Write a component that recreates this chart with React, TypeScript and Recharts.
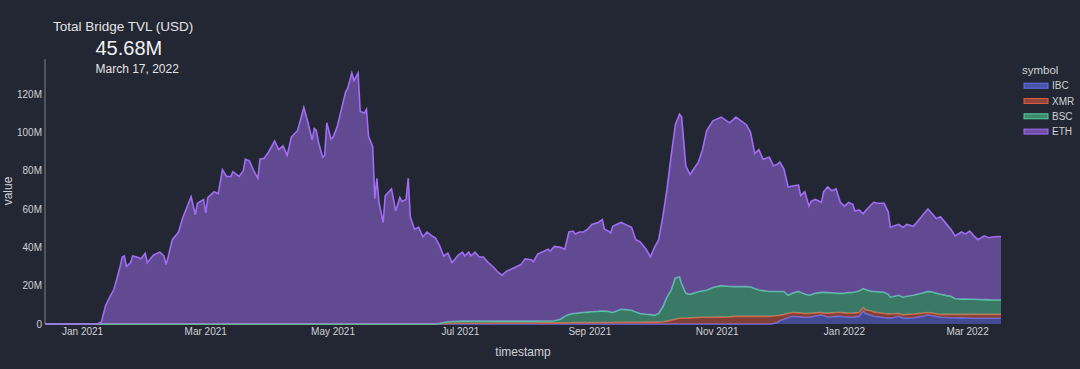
import { AreaChart, Area, XAxis, YAxis } from "recharts";

// days counted from 2020-12-14, values in millions of USD
const START = Date.UTC(2020, 11, 14);
const DAY = 86400000;

// before July 2021 only ETH holds value
const earlyDays = [
  0, 25, 27, 29, 31, 33, 34, 36, 37, 38, 39, 41, 42, 44, 46, 48, 49, 52, 55, 57,
  58, 59, 61, 64, 66, 70, 72, 73, 76, 77, 78, 81, 83, 85, 87, 89, 90, 93, 95, 96,
  98, 100, 102, 103, 105, 107, 110, 112, 114, 116, 117, 118, 121, 124, 125, 126, 128, 129, 130, 131,
  133, 134, 135, 137, 138, 140, 142, 144, 145, 147, 148, 150, 151, 153, 154, 155, 157, 158, 159, 160,
  162, 163, 166, 168, 170, 171, 173, 174, 175, 177, 179, 181, 183, 186, 187,
];
const earlyEth = [
  0, 0, 1, 9.5, 14, 18, 22, 30, 35, 35.5, 30, 32, 35.5, 35, 34, 37, 32, 36, 37.5, 35.5,
  31, 35, 44, 48, 55.5, 66.5, 57, 63, 65, 58, 66, 69, 68, 80.5, 77, 77, 79.5, 77, 80, 86,
  85, 80, 76, 86, 86.5, 89.5, 95.5, 91, 93, 88, 92.5, 97.5, 101, 113, 109, 105, 96, 102, 101, 95,
  87, 88, 105, 96.5, 97.5, 103, 112, 121, 123, 131, 127, 131, 111, 110, 112, 98, 92.5, 65.5, 76, 63.5,
  53, 67, 70.5, 59, 66, 64, 65, 76, 56, 49.5, 50.5, 45.5, 48, 45.5, 45,
];

const lateDays = [
  189, 191, 193, 195, 198, 200, 201, 203, 204, 206, 208, 210, 212, 215, 217, 219, 221, 224, 228, 230,
  233, 234, 236, 239, 241, 242, 244, 247, 249, 251, 253, 254, 256, 258, 260, 262, 265, 267, 268, 270,
  271, 272, 276, 278, 281, 283, 285, 288, 290, 292, 294, 296, 298, 300, 302, 304, 305, 307, 309, 313,
  315, 317, 320, 324, 328, 331, 336, 338, 340, 342, 344, 347, 349, 351, 352, 354, 356, 358, 361, 362,
  364, 366, 367, 369, 372, 373, 375, 377, 379, 381, 383, 385, 387, 388, 390, 392, 393, 396, 397, 399,
  402, 404, 405, 409, 411, 413, 416, 418, 421, 423, 425, 427, 429, 432, 434, 436, 439, 441, 443, 445,
  447, 450, 452, 455, 458,
];
const lateEth = [
  40.7, 34.7, 35.8, 30.7, 34.6, 36, 34, 36, 34, 36, 33.5, 33.5, 31, 28, 25.5, 24, 26, 27.5, 29.5, 32.5,
  32, 31, 35, 36.4, 37.4, 36.4, 38.8, 37.5, 35, 43, 43, 41.5, 42.2, 42, 43.3, 45.6, 46.4, 47.7, 42.8, 42,
  41.3, 45, 45.3, 44.5, 43.3, 37.8, 37.5, 33.9, 30.1, 35.5, 38.5, 47, 56.5, 70.3, 80, 85, 87, 66.5, 62.5, 67.7,
  73.8, 83.4, 87, 88, 85.4, 88.5, 84.5, 80.7, 70.5, 73.3, 68.6, 70, 65.5, 66.5, 67.5, 64, 56.5, 56, 55.5, 50.5,
  53.3, 46.5, 48.7, 49, 47, 52.5, 55.1, 53.2, 54.4, 47.5, 45.4, 47.1, 46, 42.3, 42.3, 39, 41, 45.5, 46.5, 46.2,
  46.5, 43, 36.5, 37, 36.5, 37.5, 36, 38, 41.2, 43, 40.8, 38.9, 40.5, 37.2, 35, 32.8, 35, 34, 35.6, 33.1,
  31.2, 33.3, 32.4, 33, 33.18,
];
const lateBsc = [
  0.2, 0.5, 0.9, 0.9, 1, 1.1, 1.1, 1.1, 1.1, 1.1, 1.1, 1.1, 1.1, 1, 1, 1, 1, 1, 1, 1,
  1, 1, 1, 1, 1, 1, 1.1, 1.9, 3.4, 4.4, 4.8, 4.8, 5.1, 5.3, 5.5, 5.7, 5.8, 6, 5.9, 5.7,
  5.4, 5.2, 6.8, 6.6, 6.3, 5.3, 4.6, 4.1, 3.9, 3.5, 4.5, 7.8, 12.5, 15.7, 21.5, 21.5, 18, 13, 12.3, 13.4,
  13.7, 14.1, 15.5, 16.4, 15.9, 15.5, 15.5, 15.3, 14.5, 13.7, 13.4, 13, 12.8, 12.6, 12.5, 12, 9.5, 10, 11.2, 10.8,
  10.2, 9.5, 9.7, 10.2, 10.5, 10.7, 10.8, 10.5, 10.1, 10, 10.3, 10.8, 10.8, 10.9, 11.2, 10, 10.7, 10.2, 10.8, 10.8,
  11, 10.2, 8.8, 9.5, 9.3, 9.5, 9.8, 10.1, 10.6, 11, 11, 10.8, 10.5, 9.8, 9.5, 8.2, 8, 8, 7.9, 7.9,
  7.8, 7.7, 7.6, 7.5, 7.5,
];
const lateXmr = [
  0.1, 0.3, 0.3, 0.4, 0.4, 0.4, 0.4, 0.4, 0.4, 0.4, 0.4, 0.4, 0.4, 0.5, 0.5, 0.5, 0.5, 0.5, 0.5, 0.5,
  0.5, 0.5, 0.5, 0.6, 0.6, 0.6, 0.6, 0.6, 0.6, 0.6, 0.7, 0.7, 0.7, 0.7, 0.7, 0.7, 0.8, 0.8, 0.8, 0.8,
  0.8, 0.8, 0.9, 0.9, 0.9, 0.9, 0.9, 1, 1, 1, 1, 1.2, 1.5, 2, 2.5, 3, 3, 3, 3.2, 3.4,
  3.5, 3.5, 3.5, 3.6, 3.7, 4, 4, 4, 4, 4, 4, 4, 3.9, 3.6, 2.8, 2.5, 2.2, 2, 2, 2,
  2, 2, 1.9, 1.6, 1.3, 1.5, 2.1, 2, 2, 2, 2, 2.1, 2.2, 2.1, 2, 1.7, 1.8, 2.3, 2.2, 2.2,
  2.1, 2.1, 2.2, 1.5, 1.5, 2, 1.9, 1.8, 1.5, 1.3, 1.4, 1.4, 1.5, 1.6, 1.7, 1.7, 1.8, 1.9, 1.9, 2,
  2, 2, 2, 2, 2,
];
const lateIbc = [
  0, 0, 0, 0, 0, 0, 0, 0, 0, 0, 0, 0, 0, 0, 0, 0, 0, 0, 0, 0,
  0, 0, 0, 0, 0, 0, 0, 0, 0, 0, 0, 0, 0, 0, 0, 0, 0, 0, 0, 0,
  0, 0, 0, 0, 0, 0, 0, 0, 0, 0, 0, 0, 0, 0, 0, 0, 0, 0, 0, 0,
  0, 0, 0, 0, 0, 0, 0, 0, 0, 0, 0, 0, 0.3, 0.8, 1.7, 2.5, 3.3, 4, 3.8, 3.7,
  3.5, 3.5, 3.7, 4.2, 4.7, 4.3, 3.5, 3.8, 4, 4, 3.8, 3.5, 3.5, 3.7, 4, 6.8, 5.5, 4.5, 4, 3.8,
  3.4, 3.2, 3, 4, 3.2, 3, 3.3, 3.6, 4.2, 4.7, 4.3, 3.9, 3.5, 3.4, 3.3, 3.3, 3.2, 3.1, 3.1, 3,
  3, 3, 3, 3, 3,
];

const yTicks = [0, 20, 40, 60, 80, 100, 120];
const tickDates = ["2021-01-01", "2021-03-01", "2021-05-01", "2021-07-01", "2021-09-01", "2021-11-01", "2022-01-01", "2022-03-01"];
const tickLabels = ["Jan 2021", "Mar 2021", "May 2021", "Jul 2021", "Sep 2021", "Nov 2021", "Jan 2022", "Mar 2022"];

const symbols = ["IBC", "XMR", "BSC", "ETH"];
const colors: Record<string, string> = {
  IBC: "#6270f0",
  XMR: "#dc5a40",
  BSC: "#52cc99",
  ETH: "#a16df3",
};

const rows = [
  ...earlyDays.map((d, i) => ({ t: START + d * DAY, ETH: earlyEth[i], BSC: 0, XMR: 0, IBC: 0 })),
  ...lateDays.map((d, i) => ({
    t: START + d * DAY,
    ETH: lateEth[i],
    BSC: lateBsc[i],
    XMR: lateXmr[i],
    IBC: lateIbc[i],
  })),
];

const tickTimes = tickDates.map((s) => Date.parse(s));
const FONT = '"Liberation Sans", Arial, sans-serif';
const BG = "#232733";

export default function App() {
  return (
    <div style={{ position: "absolute", left: 0, top: 0, width: 1080, height: 369, background: BG, fontFamily: FONT }}>
      <AreaChart width={1080} height={369} data={rows} margin={{ top: 59, right: 79, bottom: 0, left: 0 }}>
        <XAxis
          dataKey="t"
          type="number"
          scale="time"
          domain={[START, START + 458 * DAY]}
          ticks={tickTimes}
          tickFormatter={(v) => tickLabels[tickTimes.indexOf(v)] ?? ""}
          axisLine={false}
          tickLine={false}
          tickSize={0}
          tickMargin={4}
          height={45}
          tick={{ fill: "#d0d2d6", fontSize: 10, fontFamily: FONT }}
        />
        <YAxis
          type="number"
          domain={[0, 138.3]}
          ticks={yTicks}
          tickFormatter={(v) => (v === 0 ? "0" : `${v}M`)}
          width={45}
          axisLine={{ stroke: "#7d828c", strokeWidth: 1 }}
          tickLine={false}
          tickSize={0}
          tickMargin={3}
          tick={{ fill: "#d0d2d6", fontSize: 10, fontFamily: FONT }}
        />
        {symbols.map((s) => (
          <Area
            key={s}
            type="linear"
            dataKey={s}
            stackId="tvl"
            stroke={colors[s]}
            strokeWidth={1.6}
            fill={colors[s]}
            fillOpacity={0.5}
            dot={false}
            activeDot={false}
            isAnimationActive={false}
          />
        ))}
      </AreaChart>

      <svg width={1080} height={369} style={{ position: "absolute", left: 0, top: 0, pointerEvents: "none" }}>
        <text x={53} y={30.5} fill="#e4e4e4" fontSize={13.5} fontFamily={FONT}>
          Total Bridge TVL (USD)
        </text>
        <text x={95.5} y={55.3} fill="#f2f2f2" fontSize={20} fontFamily={FONT}>
          45.68M
        </text>
        <text x={95.5} y={73} fill="#e4e4e4" fontSize={12} fontFamily={FONT}>
          March 17, 2022
        </text>
        <text x={12} y={191} fill="#d0d2d6" fontSize={12} fontFamily={FONT} textAnchor="middle" transform="rotate(-90 12 191)">
          value
        </text>
        <text x={523} y={356} fill="#d0d2d6" fontSize={12} fontFamily={FONT} textAnchor="middle">
          timestamp
        </text>
        <text x={1022} y={74} fill="#d0d2d6" fontSize={11.5} fontFamily={FONT}>
          symbol
        </text>
        {symbols.map((s, i) => (
          <g key={s}>
            <rect x={1024} y={83.2 + i * 15.3} width={24} height={5} fill={colors[s]} fillOpacity={0.6} stroke={colors[s]} strokeWidth={1} />
            <text x={1052} y={89.3 + i * 15.3} fill="#d0d2d6" fontSize={10} fontFamily={FONT}>
              {s}
            </text>
          </g>
        ))}
      </svg>
    </div>
  );
}
